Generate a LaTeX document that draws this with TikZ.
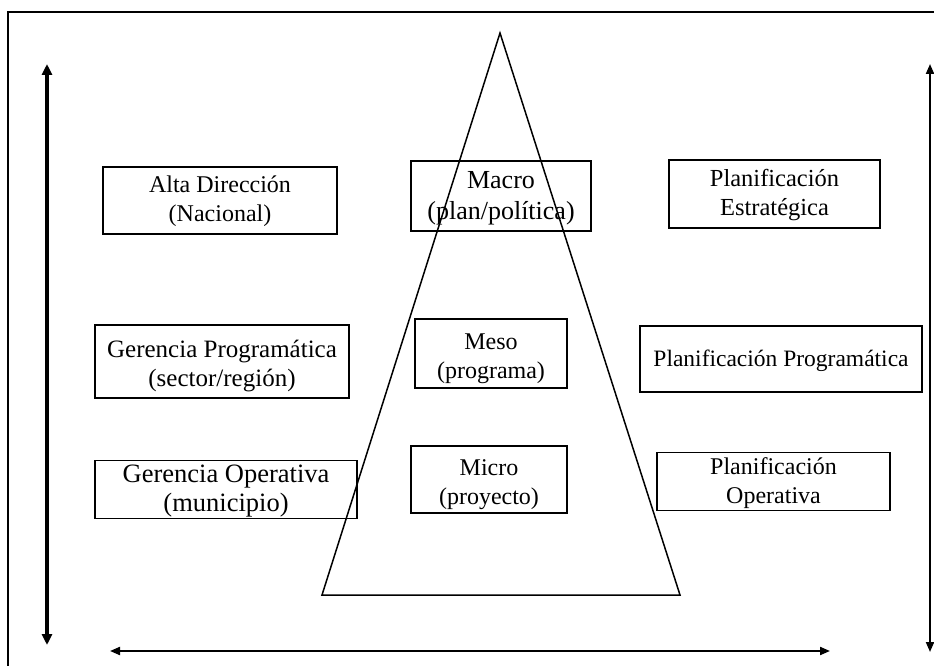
\documentclass[tikz,border=0pt]{standalone}
\usepackage{fontspec}
\setmainfont{Liberation Serif}
\usetikzlibrary{arrows.meta}
% centred lines, lowered inside their frame without changing its extent
\newcommand{\boxtext}[2]{\raisebox{-#1}[\height][\depth]{\begin{tabular}{@{}c@{}}#2\end{tabular}}}
\begin{document}
\begin{tikzpicture}[x=1pt,y=-1pt,
  box/.style={draw, line width=1.7pt, inner sep=0pt,
    font=\fontsize{24}{29}\selectfont},
  fs/.style={font=\fontsize{#1}{29}\selectfont},
  thintip/.tip={Triangle[length=10pt,width=8pt]},
  thicktip/.tip={Triangle[length=11pt,width=10pt]},
  thickaxis/.style={line width=3.5pt, thicktip-thicktip},
  thinaxis/.style={line width=2pt, thintip-thintip}]
\useasboundingbox (0,0) rectangle (934,666);

% outer frame (open to the right and bottom)
\draw[line width=2pt] (8,670) -- (8,12) -- (940,12);

% levels on the left
\node[box, minimum width=234pt, minimum height=67pt] (alta) at (220,200.5)
  {\boxtext{1pt}{Alta Dirección\\(Nacional)}};
\node[box, fs=25, minimum width=254pt, minimum height=73pt] (gprog) at (222,361.5)
  {\boxtext{5pt}{Gerencia Programática\\(sector/región)}};
\node[box, fs=26.5, minimum width=262pt, minimum height=57pt] (gop) at (226,489.5)
  {\boxtext{1.5pt}{Gerencia Operativa\\(municipio)}};

% levels inside the pyramid
\node[box, font=\fontsize{26}{31}\selectfont, minimum width=180pt, minimum height=70pt] (macro) at (501,196)
  {\boxtext{1.5pt}{Macro\\(plan/política)}};
\node[box, minimum width=152pt, minimum height=69pt] (meso) at (491,353.5)
  {\boxtext{5pt}{Meso\\(programa)}};
\node[box, minimum width=156pt, minimum height=67pt] (micro) at (489,479.5)
  {\boxtext{4.5pt}{Micro\\(proyecto)}};

% planning types on the right
\node[box, fs=24.5, minimum width=211pt, minimum height=68pt] (pest) at (774.5,194)
  {\boxtext{1.5pt}{Planificación\\Estratégica}};
\node[box, fs=23.5, minimum width=282pt, minimum height=66pt] (pprog) at (781,359)
  {\boxtext{1.8pt}{Planificación Programática}};
\node[box, minimum width=233pt, minimum height=57pt] (pop) at (773.5,481.5)
  {\boxtext{2pt}{Planificación\\Operativa}};

% pyramid
\coordinate (apex) at (500,33);
\coordinate (bl) at (322,595);
\coordinate (br) at (680,595);
\draw[line width=1.5pt, line join=miter] (apex) -- (br) -- (bl) -- cycle;

% axes
\coordinate (ltop) at (47,64);
\coordinate (lbot) at (47,645);
\coordinate (rtop) at (930,64);
\coordinate (rbot) at (930,652);
\coordinate (hl) at (110,651);
\coordinate (hr) at (830,651);
\draw[thickaxis] (ltop) -- (lbot);
\draw[thinaxis] (rtop) -- (rbot);
\draw[thinaxis] (hl) -- (hr);
\end{tikzpicture}
\end{document}
